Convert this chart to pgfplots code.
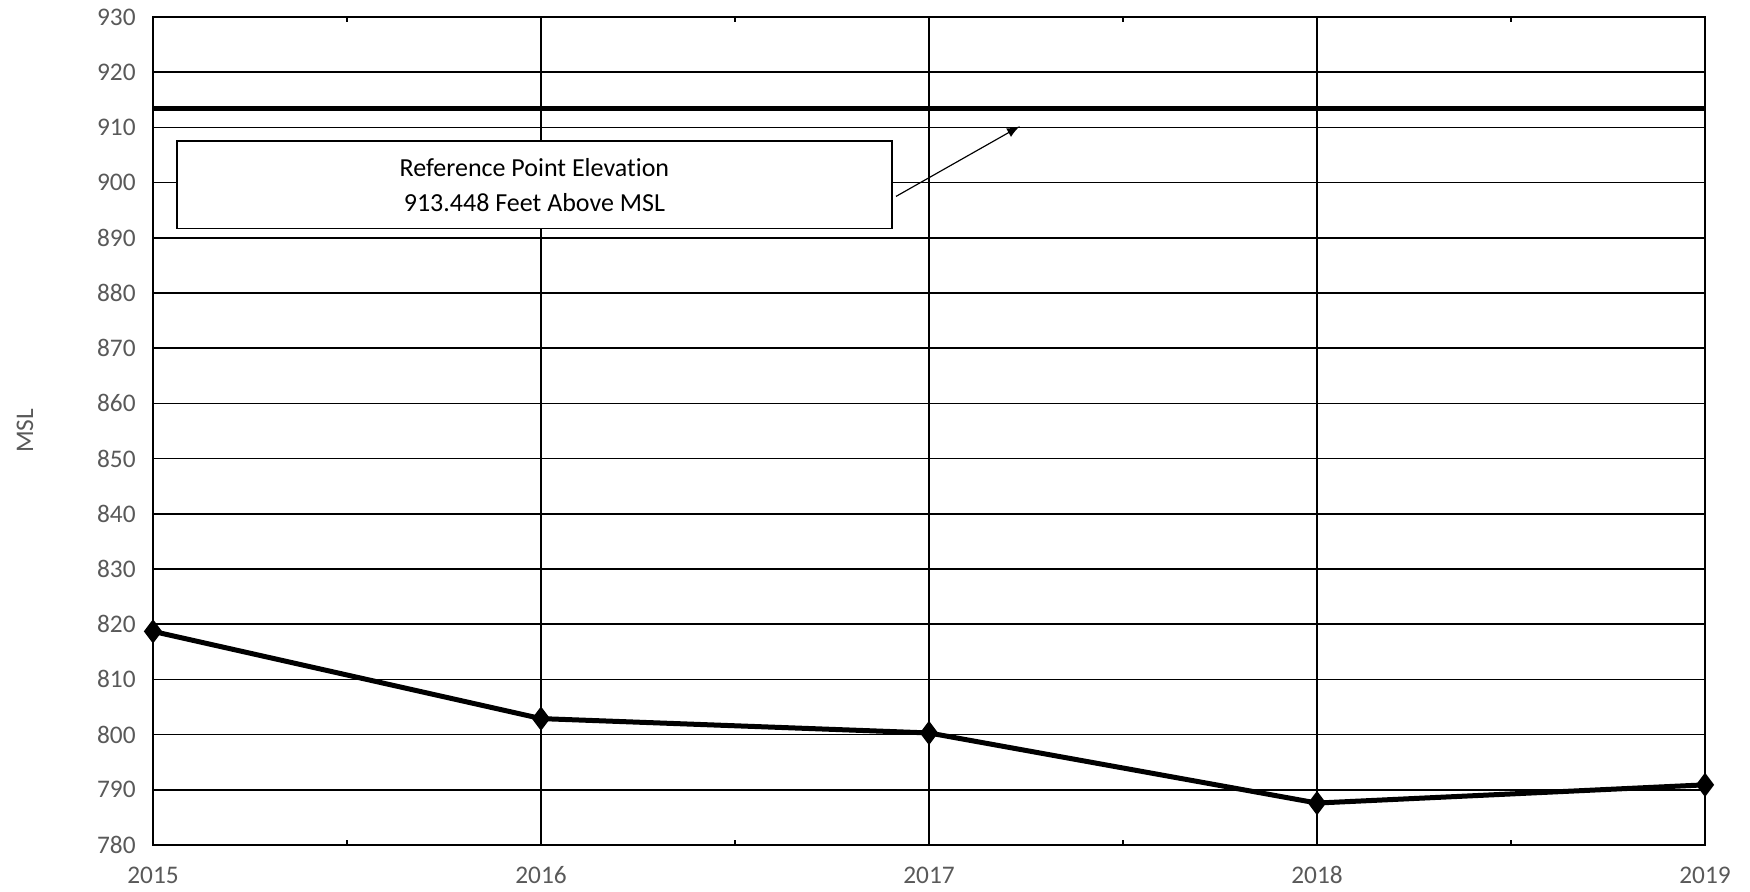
\documentclass[border=0pt]{standalone}
\usepackage{fontspec}
\setmainfont{Carlito}[Ligatures=NoCommon]
\usepackage{pgfplots}
\pgfplotsset{compat=1.18}
\definecolor{tickgray}{HTML}{595959}
\begin{document}
\begin{tikzpicture}
\begin{axis}[
  scale only axis,
  width=465.6pt, height=248.4pt,
  xmin=2015, xmax=2019, ymin=780, ymax=930,
  xtick={2015,2016,2017,2018,2019},
  minor xtick={2015.5,2016.5,2017.5,2018.5},
  ytick={780,790,...,930},
  xticklabel style={/pgf/number format/1000 sep={}, inner sep=1pt},
  yticklabel style={inner sep=1pt},
  /pgf/number format/assume math mode=true,
  ticklabel style={font=\fontsize{7.6}{9}\selectfont, text=tickgray},
  xmajorgrids, ymajorgrids,
  grid style={black, line width=0.45pt},
  axis line style={black, line width=0.8pt},
  tick align=inside,
  major tick length=0pt,
  minor tick length=1.6pt,
  minor tick style={black, line width=0.5pt},
  xticklabel shift=5.3pt,
  yticklabel shift=4pt,
  ylabel={MSL},
  every axis y label/.style={at={(axis description cs:0,0.5)}, xshift=-38.4pt, rotate=90, anchor=center, font=\fontsize{7.6}{9}\selectfont, text=tickgray},
  clip=false,
]
\addplot[black, line width=1.3pt] coordinates {(2015,913.448) (2019,913.448)};
\addplot[black, line width=1.5pt, mark=diamond*, mark size=2.4pt, mark options={fill=black}] coordinates {
  (2015,818.7) (2016,802.9) (2017,800.3) (2018,787.6) (2019,790.9)
};
\draw[black, line width=0.5pt, fill=white] (axis cs:2015.062,891.7) rectangle (axis cs:2016.905,907.5);
\node[align=center, font=\fontsize{7.8}{10.5}\selectfont] at (axis cs:2015.983,899.6) {Reference Point Elevation\\913.448 Feet Above MSL};
\draw[black, line width=0.35pt, -latex] (axis cs:2016.915,897.5) -- (axis cs:2017.234,910.2);
\end{axis}
\path (current axis.south west) ++(-45.9pt,-13.8pt) coordinate (bbsw);
\path (current axis.north east) ++(13.5pt,5.1pt) coordinate (bbne);
\pgfresetboundingbox
\useasboundingbox (bbsw) rectangle (bbne);
\end{tikzpicture}
\end{document}
